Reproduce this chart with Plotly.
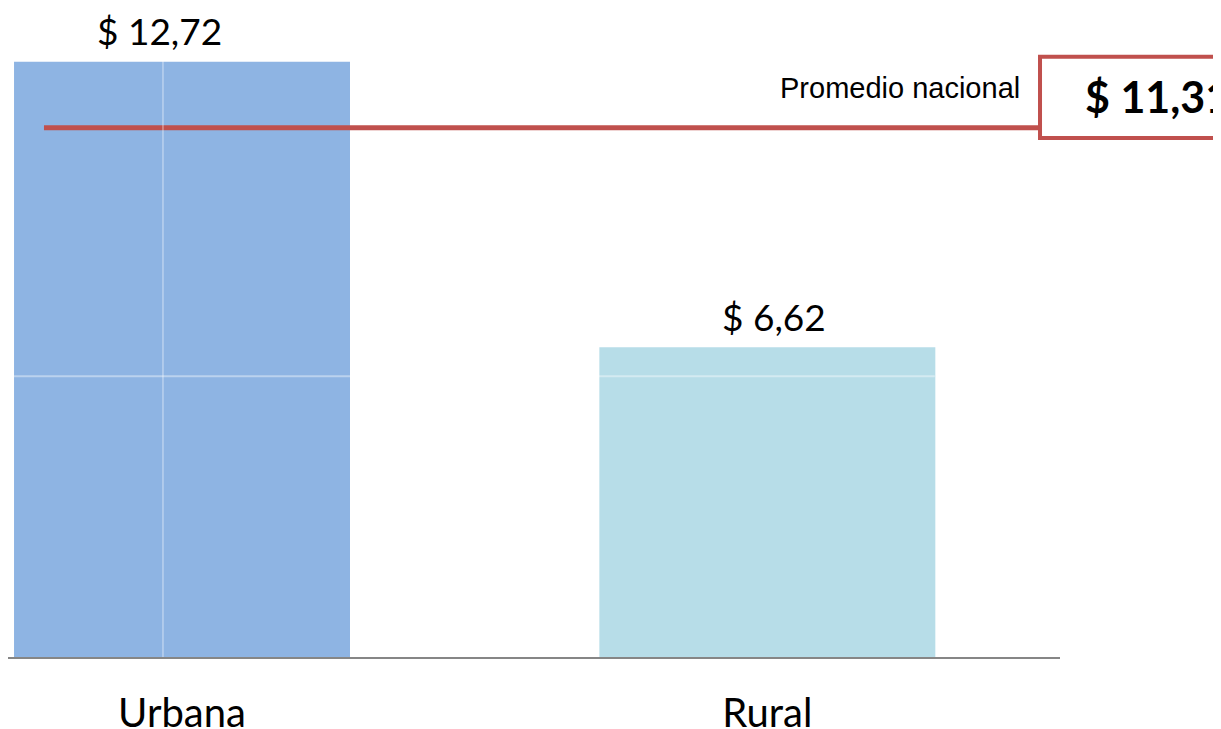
import plotly.graph_objects as go

# datos
zonas = ["Urbana", "Rural"]
ingreso = [12.72, 6.62]
colores = ["#8eb4e3", "#b7dde8"]
promedio_nacional = 11.31
etiqueta_promedio = "Promedio nacional"

rojo = "#c0504d"
# desplazamiento horizontal de las etiquetas (como en el original)
desplaz_etiqueta = [-23, 7]


def pesos(v):
    return "$ " + f"{v:.2f}".replace(".", ",")


fig = go.Figure()
fig.add_trace(go.Bar(
    x=zonas,
    y=ingreso,
    width=0.574,
    marker=dict(color=colores, line=dict(width=0)),
    hoverinfo="skip",
))

# etiquetas de valor sobre las barras
for z, v, dx in zip(zonas, ingreso, desplaz_etiqueta):
    fig.add_annotation(x=z, y=v, text=pesos(v), showarrow=False,
                       yanchor="middle", yshift=31, xshift=dx,
                       font=dict(family="Lato", size=37, color="black"))

# linea de promedio
fig.add_shape(type="line", xref="paper", yref="y",
              x0=0.0342, x1=0.981, y0=promedio_nacional, y1=promedio_nacional,
              line=dict(color=rojo, width=5), layer="above")
# caja con el valor
fig.add_shape(type="rect", xref="paper", yref="y",
              x0=0.981, x1=1.3, y0=11.09, y1=12.83,
              line=dict(color=rojo, width=4), fillcolor="white", layer="above")
fig.add_annotation(xref="paper", yref="y", x=1.0215, y=11.97,
                   xanchor="left", yanchor="middle", showarrow=False,
                   text="<b>" + pesos(promedio_nacional) + "</b>",
                   font=dict(family="Lato", size=43, color="black"))
fig.add_annotation(xref="paper", yref="y", x=0.9639, y=12.16,
                   xanchor="right", yanchor="middle", showarrow=False,
                   text=etiqueta_promedio,
                   font=dict(family="Liberation Sans", size=29, color="black"))

# lineas claras de la cuadricula
fig.add_shape(type="line", xref="paper", yref="y", x0=0.0057, x1=0.881, y0=6, y1=6,
              line=dict(color="rgba(255,255,255,0.4)", width=2), layer="above")
fig.add_shape(type="line", xref="paper", yref="y", x0=0.1473, x1=0.1473, y0=0, y1=12.76,
              line=dict(color="rgba(255,255,255,0.4)", width=1.5), layer="above")

fig.update_layout(
    width=1221, height=729,
    margin=dict(l=0, r=169, t=0, b=80, autoexpand=False),
    paper_bgcolor="white", plot_bgcolor="white",
    showlegend=False,
    xaxis=dict(range=[-0.2973, 1.5], showline=True, linecolor="#868686", linewidth=2,
               ticks="", showgrid=False, ticklabelstandoff=20, automargin=False,
               tickfont=dict(family="Lato", size=40, color="black")),
    yaxis=dict(range=[0, 13.87], visible=False, showgrid=False, zeroline=False,
               automargin=False),
)

fig.write_html("out.html")
